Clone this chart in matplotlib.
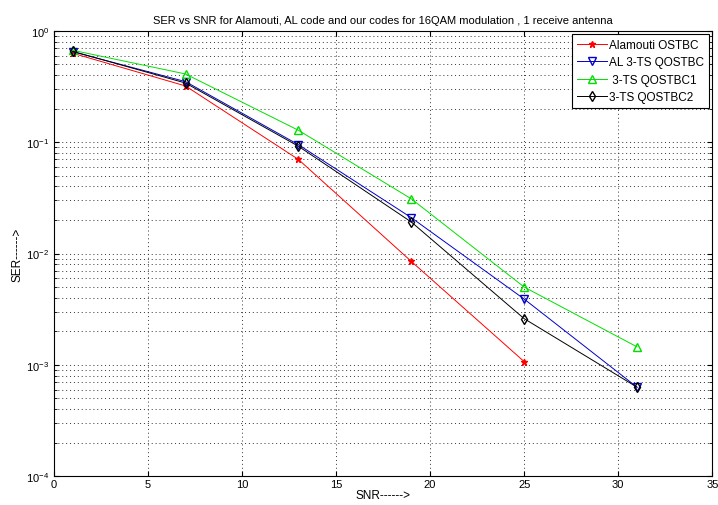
import numpy as np
import matplotlib
matplotlib.use('Agg')
import matplotlib.pyplot as plt
from matplotlib.ticker import LogLocator, NullFormatter

snr = [1, 7, 13, 19, 25, 31]
ser_alamouti = [0.63, 0.32, 0.070, 0.0085, 0.00107]
ser_al = [0.65, 0.35, 0.095, 0.021, 0.0039, 0.00063]
ser_qostbc1 = [0.67, 0.41, 0.128, 0.031, 0.0050, 0.00145]
ser_qostbc2 = [0.655, 0.34, 0.092, 0.0192, 0.0026, 0.00063]

plt.rcParams['font.family'] = ['Liberation Sans', 'DejaVu Sans']
plt.rcParams['font.size'] = 8

fig = plt.figure(figsize=(7.18, 5.06), dpi=100)
ax = fig.add_axes([0.075, 0.057, 0.917, 0.88])

ax.semilogy(snr[:5], ser_alamouti, color='r', marker='*', lw=0.7, ms=5,
            label='Alamouti OSTBC')
ax.semilogy(snr, ser_al, color='#0000cc', marker='v', mfc='none', lw=0.7, ms=5.5,
            label='AL 3-TS QOSTBC')
ax.semilogy(snr, ser_qostbc1, color='#00e000', marker='^', mfc='none', lw=0.7, ms=5.5,
            label=' 3-TS QOSTBC1')
ax.semilogy(snr, ser_qostbc2, color='k', marker='d', mfc='none', lw=0.7, ms=5,
            label='3-TS QOSTBC2')

ax.set_xlim(0, 35)
ax.set_ylim(1e-4, 1)
ax.set_xticks(np.arange(0, 36, 5))
ax.yaxis.set_major_locator(LogLocator(base=10, numticks=10))
ax.yaxis.set_minor_locator(LogLocator(base=10, subs=np.arange(2, 10), numticks=10))
ax.yaxis.set_minor_formatter(NullFormatter())
ax.tick_params(direction='in', which='both', top=True, right=True, labelsize=8)
ax.tick_params(axis='x', pad=2)
ax.grid(True, which='major', linestyle=(0, (1, 3)), color='#333333', lw=0.7)
ax.grid(True, which='minor', axis='y', linestyle=(0, (1, 3)), color='#333333', lw=0.7)

ax.set_title('SER vs SNR for Alamouti, AL code and our codes for 16QAM modulation , 1 receive antenna',
             fontsize=8)
ax.set_xlabel('SNR------>', labelpad=0, fontsize=8.5)
ax.set_ylabel('SER------>', fontsize=8.5)
ax.yaxis.set_label_coords(-0.046, 0.5)

leg = ax.legend(loc='upper right', fancybox=False, framealpha=1, edgecolor='k',
                fontsize=8.5, borderaxespad=0.3, handlelength=2.5,
                labelspacing=0.45, handletextpad=0.2, borderpad=0.4)
leg.get_frame().set_linewidth(0.8)

fig.savefig('out.png', dpi=100)
